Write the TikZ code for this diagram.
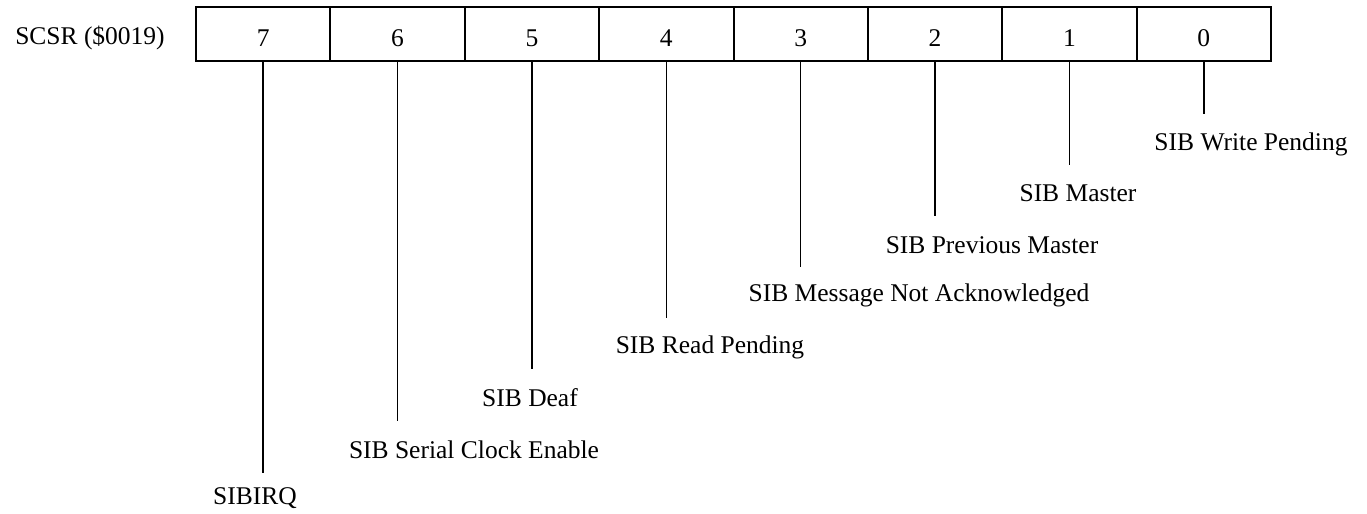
\documentclass[tikz,border=0pt]{standalone}
\usepackage{fontspec}
\setmainfont{Liberation Serif}
\begin{document}
\begin{tikzpicture}[x=0.5pt,y=-0.5pt,
  cell/.style={draw,line width=1pt,minimum width=67.1875pt,minimum height=27pt,inner sep=0pt,text height=12.2pt,text depth=0pt,font=\fontsize{12.75}{15}\selectfont},
  lbl/.style={inner sep=0pt,font=\fontsize{12.75}{15}\selectfont},
  lead/.style={line width=0.8pt}]
\useasboundingbox (0,0) rectangle (1367,514);
\node[lbl] (reg) at (90,38) {SCSR (\$0019)};
\foreach \b [evaluate=\b as \cx using {196+67.1875+(7-\b)*134.375}] in {7,...,0} {
  \node[cell] (c\b) at (\cx,34) {\b};
}
% end points
\foreach \b/\yy in {0/113,1/164,2/215,3/266,4/317,5/368,6/420,7/472} {
  \path (c\b.south) ++(0,{\yy-61}) coordinate (e\b);
  \draw[lead] (c\b.south) -- (e\b);
}
\node[lbl] (l0) at (1251,144) {SIB Write Pending};
\node[lbl] (l1) at (1078,193) {SIB Master};
\node[lbl] (l2) at (992,245) {SIB Previous Master};
\node[lbl] (l3) at (919,295) {SIB Message Not Acknowledged};
\node[lbl] (l4) at (710,347) {SIB Read Pending};
\node[lbl] (l5) at (530,398) {SIB Deaf};
\node[lbl] (l6) at (474,450) {SIB Serial Clock Enable};
\node[lbl] (l7) at (255,498) {SIBIRQ};
\end{tikzpicture}
\end{document}
